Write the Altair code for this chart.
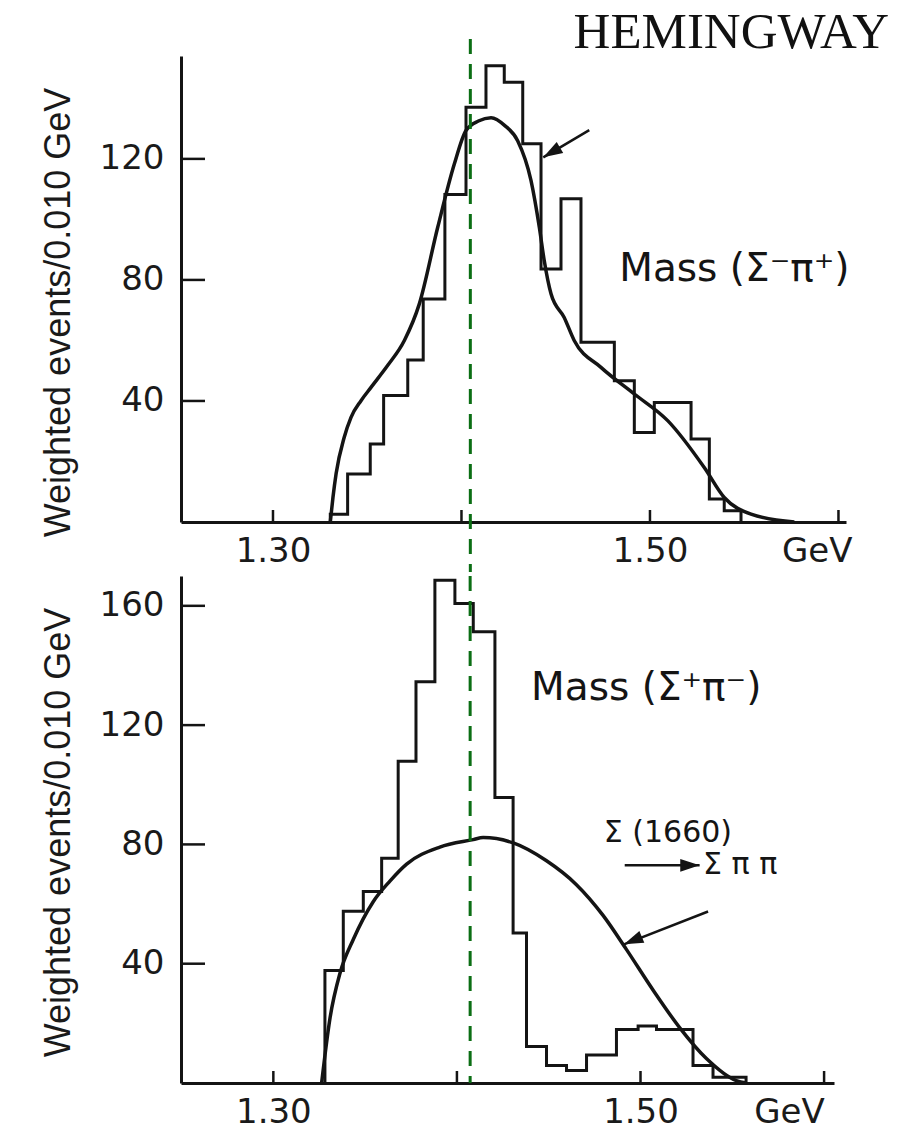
import altair as alt
import pandas as pd

# ---------------- data ----------------
# upper panel: Mass(Sigma- pi+)
TOP_EDGES = [1.3304, 1.3396, 1.3516, 1.3587, 1.3715, 1.3797, 1.3912, 1.4024, 1.4130,
             1.4227, 1.4325, 1.4422, 1.4528, 1.4634, 1.4724, 1.4811, 1.4917, 1.5023,
             1.5119, 1.5218, 1.5315, 1.5394, 1.5483]
TOP_COUNTS = [2.6, 15.9, 25.8, 41.8, 53.5, 73.7, 108.2, 137.1, 150.8, 145.3, 125.0,
              83.6, 106.8, 59.4, 59.4, 46.7, 29.6, 39.5, 39.5, 27.4, 7.6, 3.7]
TOP_FIT_X = [1.3304, 1.3318, 1.3335, 1.3378, 1.3414, 1.3467, 1.3520, 1.3608, 1.3697,
             1.3776, 1.3874, 1.3962, 1.4024, 1.4090, 1.4157, 1.4230, 1.4298, 1.4369,
             1.4413, 1.4439, 1.4475, 1.4545, 1.4598, 1.4740, 1.4917, 1.5094, 1.5288,
             1.5394, 1.5536, 1.5766]
TOP_FIT_Y = [0, 8.0, 16.0, 28.0, 34.6, 40.1, 44.5, 51.7, 60.0, 72.0, 97.4, 118.3, 129.4,
             132.5, 133.6, 131.0, 126.0, 112.8, 97.4, 86.4, 75.4, 67.6, 60.0, 51.1, 42.3,
             33.5, 18.0, 8.1, 2.6, 0]

# lower panel: Mass(Sigma+ pi-)
BOT_EDGES = [1.3281, 1.3381, 1.3490, 1.3590, 1.3680, 1.3777, 1.3880, 1.3989, 1.4089,
             1.4207, 1.4306, 1.4379, 1.4488, 1.4597, 1.4706, 1.4796, 1.4869, 1.4987,
             1.5087, 1.5188, 1.5286, 1.5395, 1.5488, 1.5575]
BOT_COUNTS = [37.7, 57.6, 64.2, 75.4, 107.9, 134.5, 168.6, 160.8, 151.3, 95.7, 50.3,
              12.2, 5.9, 4.2, 9.4, 9.4, 17.9, 19.1, 17.9, 17.9, 5.9, 1.9, 1.9]
BOT_FIT_X = [1.3263, 1.3309, 1.3363, 1.3436, 1.3544, 1.3635, 1.3726, 1.3907, 1.4089,
             1.4143, 1.4307, 1.4488, 1.4651, 1.4796, 1.4923, 1.5069, 1.5214, 1.5359,
             1.5522, 1.5577]
BOT_FIT_Y = [0, 21.9, 36.8, 48.2, 60.8, 67.7, 73.4, 79.1, 81.6, 82.3, 80.5, 74.5, 66.5,
             56.2, 44.8, 31.1, 18.5, 8.2, 0.8, 0]

# axes / ticks
X_TICKS = [1.30, 1.40, 1.50, 1.60]
TOP_X_LABELS = [1.30, 1.50, 1.5885]
BOT_X_LABELS = [1.30, 1.50, 1.5809]
TOP_Y_TICKS = [40, 80, 120]
BOT_Y_TICKS = [40, 80, 120, 160]
TOP_XDOMAIN = [1.2512, 1.6040]
BOT_XDOMAIN = [1.2497, 1.6054]
TOP_YDOMAIN = [0, 154]
BOT_YDOMAIN = [0, 170]
Y_TITLE = "Weighted events/0.010 GeV"

# reference line
MARKER_TOP = [1.4047]
MARKER_BOT = [1.4072]

# annotations
TOP_TEXT = ["Mass (Σ⁻π⁺)"]
TOP_TEXT_X = [1.4837]
TOP_TEXT_Y = [79.8]
TOP_TEXT_SIZE = [39]
BOT_TEXT = ["Mass (Σ⁺π⁻)", "Σ (1660)", "Σ π π"]
BOT_TEXT_X = [1.4404, 1.4800, 1.5341]
BOT_TEXT_Y = [128.3, 80.7, 70.0]
BOT_TEXT_SIZE = [39, 30, 30]

TOP_ARROW_TAIL = [(1.4678, 129.5)]
TOP_ARROW_TIP = [(1.4434, 120.5)]
TOP_ARROW_ANGLE = [239.4]
BOT_ARROW_TAIL = [(1.5368, 57.5), (1.4914, 73.0)]
BOT_ARROW_TIP = [(1.4910, 46.5), (1.5322, 73.0)]
BOT_ARROW_ANGLE = [247.3, 90]

HEADER = ["HEMINGWAY"]

INK = "#141414"
GREEN = "#0b6e14"
ARROW_SHAPE = "M0,0L0.33,1L-0.33,1Z"


def step_frame(edges, counts):
    xs = [edges[0]] + list(edges[:-1]) + [edges[-1]]
    ys = [0] + list(counts) + [0]
    return pd.DataFrame({"x": xs, "y": ys, "i": list(range(len(xs)))})


def panel(edges, counts, fx, fy, xdom, ydom, xlabels, yticks, marker,
          texts, tx, ty, tsize, tails, tips, angles, w, h, title_y, header=None):
    xs = alt.Scale(domain=xdom, nice=False, zero=False)
    ys = alt.Scale(domain=ydom, nice=False, zero=False)
    xaxis = alt.Axis(values=xlabels, title=None, grid=False, ticks=False,
                     labelExpr="datum.value > 1.55 ? 'GeV' : format(datum.value, '.2f')",
                     labelPadding=12, labelFlush=False, labelOverlap=False)
    yaxis = alt.Axis(values=yticks, title=Y_TITLE, grid=False, ticks=False,
                     format="d", labelPadding=17,
                     titleX=-112, titleY=title_y, titleAngle=270,
                     titleAlign="center", titleBaseline="alphabetic")

    def X(f):
        return alt.X(f, type="quantitative", scale=xs, axis=xaxis)

    def Y(f):
        return alt.Y(f, type="quantitative", scale=ys, axis=yaxis)

    hist = alt.Chart(step_frame(edges, counts)).mark_line(
        interpolate="step-after", color=INK, strokeWidth=3
    ).encode(x=X("x"), y=Y("y"), order="i:Q")

    fit = alt.Chart(pd.DataFrame({"x": fx, "y": fy, "i": list(range(len(fx)))})).mark_line(
        interpolate="monotone", color=INK, strokeWidth=3.5
    ).encode(x=X("x"), y=Y("y"), order="i:Q")

    ytk = alt.Chart(pd.DataFrame({"v": yticks})).mark_rule(color=INK, strokeWidth=2.5).encode(
        y=Y("v"), x=alt.value(0), x2=alt.value(24))
    xtk = alt.Chart(pd.DataFrame({"v": X_TICKS})).mark_rule(color=INK, strokeWidth=2.5).encode(
        x=X("v"), y=alt.value(h), y2=alt.value(h - 12))

    top_ext = -17 if header else 0
    bot_ext = h + 50 if header else h
    mark = alt.Chart(pd.DataFrame({"m": marker})).mark_rule(
        color=GREEN, strokeWidth=3, strokeDash=[15, 10]
    ).encode(x=X("m"), y=alt.value(top_ext), y2=alt.value(bot_ext))

    arr = pd.DataFrame({
        "x": [t[0] for t in tails], "y": [t[1] for t in tails],
        "x2": [t[0] for t in tips], "y2": [t[1] for t in tips],
        "ang": angles,
    })
    shaft = alt.Chart(arr).mark_rule(color=INK, strokeWidth=2.5).encode(
        x=X("x"), y=Y("y"), x2="x2:Q", y2="y2:Q")
    head = alt.Chart(arr).mark_point(
        shape=ARROW_SHAPE, filled=True, color=INK, opacity=1, size=1500, strokeWidth=0
    ).encode(x=X("x2"), y=Y("y2"), angle=alt.Angle("ang:Q", scale=None))

    lab = alt.Chart(pd.DataFrame({"t": texts, "x": tx, "y": ty, "s": tsize})).mark_text(
        font="DejaVu Sans", align="left", baseline="alphabetic", color=INK
    ).encode(x=X("x"), y=Y("y"), text="t:N", size=alt.Size("s:Q", scale=None))

    layers = [hist, fit, ytk, xtk, mark, shaft, head, lab]
    if header:
        hd = alt.Chart(pd.DataFrame({"t": header})).mark_text(
            font="Liberation Serif", fontSize=51, align="right", baseline="alphabetic",
            color="#111111"
        ).encode(x=alt.value(708), y=alt.value(-8), text="t:N")
        layers.append(hd)
    return alt.layer(*layers).properties(width=w, height=h)


top = panel(TOP_EDGES, TOP_COUNTS, TOP_FIT_X, TOP_FIT_Y, TOP_XDOMAIN, TOP_YDOMAIN,
            TOP_X_LABELS, TOP_Y_TICKS, MARKER_TOP, TOP_TEXT, TOP_TEXT_X, TOP_TEXT_Y,
            TOP_TEXT_SIZE, TOP_ARROW_TAIL, TOP_ARROW_TIP, TOP_ARROW_ANGLE,
            665, 466, 256, header=HEADER)
bot = panel(BOT_EDGES, BOT_COUNTS, BOT_FIT_X, BOT_FIT_Y, BOT_XDOMAIN, BOT_YDOMAIN,
            BOT_X_LABELS, BOT_Y_TICKS, MARKER_BOT, BOT_TEXT, BOT_TEXT_X, BOT_TEXT_Y,
            BOT_TEXT_SIZE, BOT_ARROW_TAIL, BOT_ARROW_TIP, BOT_ARROW_ANGLE,
            653, 507, 256)

chart = alt.vconcat(top, bot, spacing=0).properties(
    padding={"left": 39, "top": 7, "right": 5, "bottom": 0},
    background="white",
).configure_view(stroke=None).configure_axis(
    domainColor=INK, domainWidth=3,
    labelFont="DejaVu Sans", labelFontSize=34, labelColor="#1a1a1a",
    titleFont="Liberation Sans", titleFontSize=36, titleFontWeight="normal",
    titleColor="#1a1a1a",
)

chart.save("out.html", embed_options={"renderer": "svg", "actions": False})
